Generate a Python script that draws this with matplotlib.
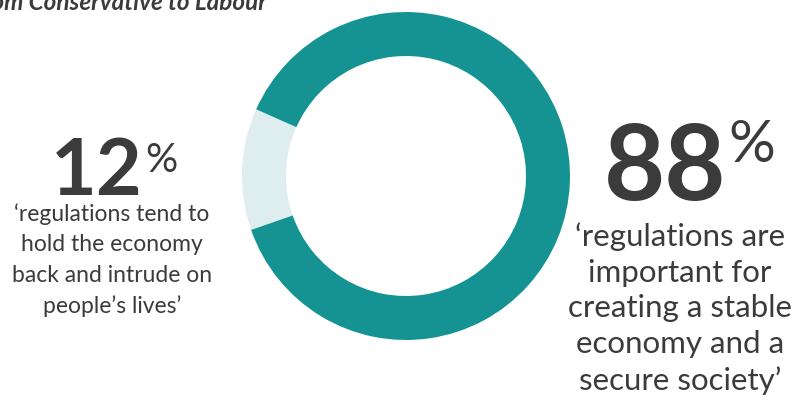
import matplotlib.pyplot as plt

# share of respondents agreeing with each statement
shares = [12, 88]
share_labels = ['12', '88']
statements = [
    '‘regulations tend to\nhold the economy\nback and intrude on\npeople’s lives’',
    '‘regulations are\nimportant for\ncreating a stable\neconomy and a\nsecure society’',
]
heading = 'Voters who switched from Conservative to Labour'

teal = '#159393'
pale = '#deeded'
ink = '#3b3b3b'
W, H = 797, 403

plt.rcParams['font.family'] = ['Lato', 'DejaVu Sans']

fig = plt.figure(figsize=(W / 100, H / 100), dpi=100)
ax = fig.add_axes([0, 0, 1, 1])

def y(v):
    # image-style y (from top) to data y
    return H - v

ax.pie(shares, colors=[pale, teal], startangle=156, counterclock=True,
       center=(406, y(176)), radius=164,
       wedgeprops=dict(width=44, edgecolor='none', linewidth=0))
ax.set_xlim(0, W)
ax.set_ylim(0, H)
ax.set_aspect('equal')
ax.axis('off')

ax.text(267, y(10), heading, ha='right', va='baseline', fontsize=17.5,
        fontweight='bold', fontstyle='italic', color=ink)

# left figure
ax.text(143, y(195), share_labels[0], ha='right', va='baseline',
        fontsize=57, fontweight='bold', color=ink)
ax.text(145, y(142), '%', ha='left', va='top', fontsize=29, color=ink)
ax.text(112, y(203), statements[0], ha='center', va='top', fontsize=16.5,
        color=ink, linespacing=1.55)

# right figure
ax.text(726, y(200), share_labels[1], ha='right', va='baseline',
        fontsize=76, fontweight='bold', color=ink)
ax.text(728, y(119), '%', ha='left', va='top', fontsize=42, color=ink)
ax.text(680, y(222), statements[1], ha='center', va='top', fontsize=22.5,
        color=ink, linespacing=1.34)

fig.savefig('out.png', dpi=100)
